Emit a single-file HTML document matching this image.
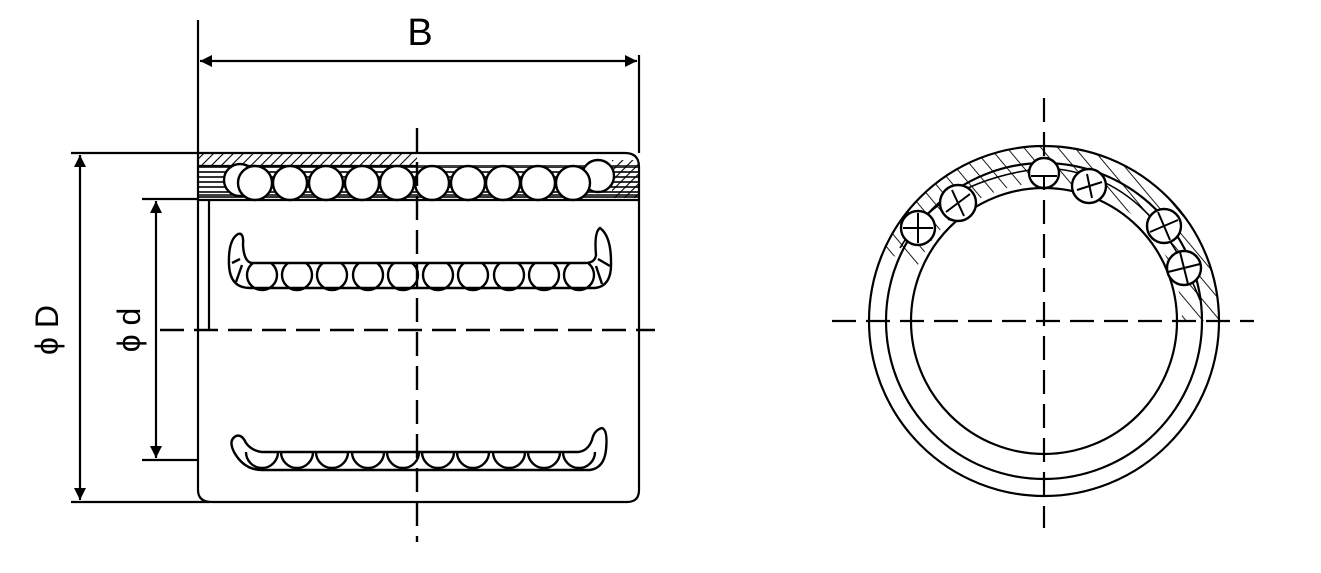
<!DOCTYPE html>
<html><head><meta charset="utf-8"><style>
html,body{margin:0;padding:0;background:#fff}
svg{display:block}
text{font-family:"Liberation Sans",sans-serif;fill:#000}
</style></head><body>
<svg width="1321" height="573" viewBox="0 0 1321 573" xmlns="http://www.w3.org/2000/svg">
<defs>
<pattern id="h" width="7" height="7" patternUnits="userSpaceOnUse" patternTransform="rotate(45)">
<line x1="0" y1="0" x2="0" y2="7" stroke="#000" stroke-width="2.2"/></pattern>
<pattern id="h2" width="13" height="13" patternUnits="userSpaceOnUse" patternTransform="rotate(-40)">
<line x1="0" y1="0" x2="0" y2="13" stroke="#000" stroke-width="1.8"/></pattern>
<pattern id="hz" width="6" height="5" patternUnits="userSpaceOnUse">
<line x1="0" y1="2" x2="6" y2="2" stroke="#000" stroke-width="1.6"/></pattern>
<clipPath id="cu"><rect x="200" y="263" width="440" height="30"/></clipPath>
<clipPath id="cl"><rect x="200" y="452" width="440" height="20"/></clipPath>
<marker id="a" viewBox="0 0 10 10" refX="10" refY="5" markerWidth="20" markerHeight="12" markerUnits="userSpaceOnUse" orient="auto-start-reverse"><path d="M0,0 L10,5 L0,10 z" fill="#000"/></marker>
<clipPath id="wedge"><path d="M1044,321 L880,250 L880,120 L1044,110 L1230,150 L1230,321 Z"/></clipPath>
<mask id="ann"><rect width="1321" height="573" fill="#000"/>
<circle cx="1044" cy="321" r="175" fill="#fff"/>
<circle cx="1044" cy="321" r="138" fill="#000"/></mask>
</defs>
<g stroke="#000" stroke-width="2.2" fill="none">
<line x1="198" y1="20" x2="198" y2="153"/>
<line x1="639" y1="55" x2="639" y2="153"/>
<line x1="200" y1="61" x2="637" y2="61" marker-start="url(#a)" marker-end="url(#a)"/>
<line x1="71" y1="153" x2="198" y2="153"/>
<line x1="71" y1="502" x2="210" y2="502"/>
<line x1="80" y1="155" x2="80" y2="500" marker-start="url(#a)" marker-end="url(#a)"/>
<line x1="142" y1="199" x2="198" y2="199"/>
<line x1="142" y1="460" x2="198" y2="460"/>
<line x1="156" y1="201" x2="156" y2="458" marker-start="url(#a)" marker-end="url(#a)"/>
<line x1="209" y1="200" x2="209" y2="330"/>
<path d="M198,153 L625,153 Q639,153 639,167 L639,490 Q639,502 627,502 L212,502 Q198,502 198,490 Z"/>
<line x1="198" y1="200" x2="639" y2="200"/>
<rect x="199" y="154" width="218" height="12" fill="url(#h)" stroke="none"/>
<line x1="198" y1="166" x2="418" y2="166"/>
<line x1="418" y1="166" x2="639" y2="166" stroke-width="1.5"/>
<rect x="199" y="167" width="440" height="32" fill="url(#hz)" stroke="none"/>
<rect x="612" y="160" width="26" height="38" fill="url(#h)" stroke="none"/>
<line x1="199" y1="195" x2="639" y2="195" stroke-width="1.5"/>
</g>
<g stroke="#000" stroke-width="2.4" fill="#fff">
<circle cx="240" cy="180" r="16"/><circle cx="598" cy="176" r="16"/>
<circle cx="255" cy="183" r="17"/><circle cx="290" cy="183" r="17"/><circle cx="326" cy="183" r="17"/><circle cx="362" cy="183" r="17"/><circle cx="397" cy="183" r="17"/><circle cx="432" cy="183" r="17"/><circle cx="468" cy="183" r="17"/><circle cx="503" cy="183" r="17"/><circle cx="538" cy="183" r="17"/><circle cx="573" cy="183" r="17"/>
</g>
<g stroke="#000" stroke-width="2.4" fill="none">
<path d="M238,234 Q228,240 229,265 Q230,288 250,288 L595,288 Q612,286 611,262 Q611,236 600,228 Q594,232 596,255 Q595,263 585,263 L252,263 Q244,262 243,245 Q244,232 238,234 Z"/>
<g clip-path="url(#cu)">
<circle cx="262" cy="275" r="15"/><circle cx="297" cy="275" r="15"/><circle cx="332" cy="275" r="15"/><circle cx="368" cy="275" r="15"/><circle cx="403" cy="275" r="15"/><circle cx="438" cy="275" r="15"/><circle cx="473" cy="275" r="15"/><circle cx="509" cy="275" r="15"/><circle cx="544" cy="275" r="15"/><circle cx="579" cy="275" r="15"/>
</g>
<path d="M240,259 L232,263 M242,265 L236,282 M598,259 L610,266 M596,266 L602,284"/>
<path d="M236,436 Q228,440 234,452 Q244,470 262,470 L590,470 Q604,468 606,450 Q608,430 602,428 Q594,430 592,440 Q588,451 578,452 L262,452 Q252,451 246,443 Q242,434 236,436 Z"/>
<g clip-path="url(#cl)">
<circle cx="262" cy="452" r="16"/><circle cx="297" cy="452" r="16"/><circle cx="332" cy="452" r="16"/><circle cx="368" cy="452" r="16"/><circle cx="403" cy="452" r="16"/><circle cx="438" cy="452" r="16"/><circle cx="473" cy="452" r="16"/><circle cx="509" cy="452" r="16"/><circle cx="544" cy="452" r="16"/><circle cx="579" cy="452" r="16"/>
</g>
<line x1="160" y1="330" x2="655" y2="330" stroke-dasharray="24,10"/>
<line x1="417" y1="128" x2="417" y2="542" stroke-dasharray="24,10"/>
</g>
<text x="420" y="45" font-size="38" text-anchor="middle">B</text>
<text transform="translate(58,330) rotate(-90)" font-size="32" text-anchor="middle">ϕ D</text>
<text transform="translate(140,330) rotate(-90)" font-size="32" text-anchor="middle">ϕ d</text>
<g stroke="#000" stroke-width="2.2" fill="none">
<g clip-path="url(#wedge)"><rect x="0" y="0" width="1321" height="573" fill="url(#h2)" stroke="none" mask="url(#ann)"/></g>
<circle cx="1044" cy="321" r="175"/>
<circle cx="1044" cy="321" r="158"/>
<circle cx="1044" cy="321" r="133"/>
<path d="M900,248 Q940,180 1044,168 Q1150,172 1200,300" stroke-width="1.6"/>
<line x1="832" y1="321" x2="1254" y2="321" stroke-dasharray="24,10"/>
<line x1="1044" y1="98" x2="1044" y2="528" stroke-dasharray="24,10"/>
</g>
<g stroke="#000" stroke-width="2.4" fill="#fff">
<circle cx="1044" cy="173" r="15"/>
<circle cx="1089" cy="186" r="17"/>
<circle cx="958" cy="203" r="18"/>
<circle cx="918" cy="228" r="17"/>
<circle cx="1164" cy="226" r="17"/>
<circle cx="1184" cy="268" r="17"/>
</g>
<g stroke="#000" stroke-width="2" fill="none">
<path d="M1031,176 L1057,176 M1044,176 L1044,188"/>
<path d="M1077,190 L1102,182 M1087,174 L1092,198"/>
<path d="M946,212 L970,194 M952,190 L964,216"/>
<path d="M903,228 L933,228 M918,213 L918,243"/>
<path d="M1150,232 L1178,220 M1158,212 L1170,240"/>
<path d="M1168,272 L1200,264 M1180,252 L1188,284"/>
</g>
</svg>
</body></html>
